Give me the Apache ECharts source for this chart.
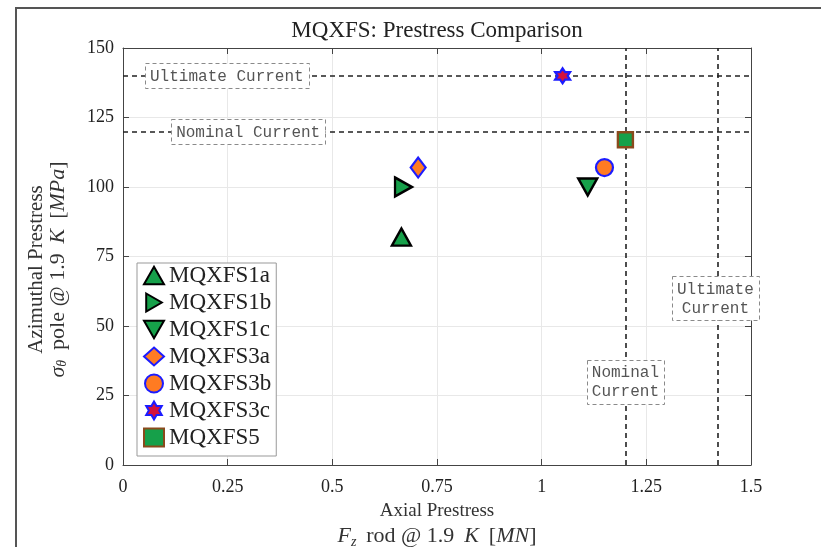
<!DOCTYPE html>
<html><head><meta charset="utf-8">
<script src="https://cdn.jsdelivr.net/npm/echarts@6/dist/echarts.min.js"></script>
<style>html,body{margin:0;padding:0;background:#fff;overflow:hidden}#c{width:821px;height:547px}</style>
</head><body><div id="c"></div>
<script>
// ---- data ----
var seriesNames = ['MQXFS1a','MQXFS1b','MQXFS1c','MQXFS3a','MQXFS3b','MQXFS3c','MQXFS5'];
var axialValues = [0.665, 0.67, 1.11, 0.705, 1.15, 1.05, 1.20];      // MN
var azimuthalValues = [82, 100, 100, 107, 107, 140, 117];          // MPa
var xTicks = [0, 0.25, 0.5, 0.75, 1, 1.25, 1.5];
var yTicks = [0, 25, 50, 75, 100, 125, 150];
var nominalCurrent = {axial: 1.2, azimuthal: 120};
var ultimateCurrent = {axial: 1.415, azimuthal: 140};
var annotationTexts = ['Ultimate Current', 'Nominal Current', 'Nominal\nCurrent', 'Ultimate\nCurrent'];
var annotationX = [0.248, 0.299, 1.2, 1.415];
var annotationY = [140, 120, 30, 60];

var SERIF = '"Liberation Serif", "DejaVu Serif", serif';
var MONO = '"Liberation Mono", "DejaVu Sans Mono", monospace';
var green = '#16a04a', orange = '#ff7b22', blue = '#1c1cff', red = '#d3123e', brown = '#8a4a1c';
var hexagram = 'path://M0,-10 L2.887,-5 L8.66,-5 L5.774,0 L8.66,5 L2.887,5 L0,10 L-2.887,5 L-8.66,5 L-5.774,0 L-8.66,-5 L-2.887,-5 Z';
var styles = [
  {symbol: 'path://M5,0 L10,8.66 L0,8.66 Z', size: [19, 17], fill: green, border: '#000', bw: 2.4},
  {symbol: 'path://M0,0 L8.66,5 L0,10 Z', size: [17, 19], fill: green, border: '#000', bw: 2.4},
  {symbol: 'path://M0,0 L10,0 L5,8.66 Z', size: [19, 17], fill: green, border: '#000', bw: 2.4},
  {symbol: 'diamond', size: [15, 20], fill: orange, border: blue, bw: 2.2},
  {symbol: 'circle', size: 17, fill: orange, border: blue, bw: 2.2},
  {symbol: hexagram, size: 15, fill: red, border: blue, bw: 2.2},
  {symbol: 'rect', size: 15, fill: green, border: brown, bw: 2.4}
];

var series = seriesNames.map(function (n, i) {
  var s = styles[i];
  return {
    name: n, type: 'scatter', z: 5,
    symbol: s.symbol, symbolSize: s.size,
    itemStyle: {color: s.fill, borderColor: s.border, borderWidth: s.bw, opacity: 1},
    data: [[axialValues[i], azimuthalValues[i]]]
  };
});

var dashStyle = {type: [5, 4], color: '#222', width: 1.6};
series.push({
  name: 'limits', type: 'scatter', data: [], z: 2,
  markLine: {
    silent: true, symbol: 'none', animation: false,
    label: {show: false}, lineStyle: dashStyle,
    data: [
      {yAxis: ultimateCurrent.azimuthal},
      {yAxis: nominalCurrent.azimuthal},
      {xAxis: nominalCurrent.axial},
      {xAxis: ultimateCurrent.axial}
    ]
  }
});

var chart = echarts.init(document.getElementById('c'), null, {renderer: 'canvas', width: 821, height: 547});
var axisCommon = {
  axisLine: {show: true, onZero: false, lineStyle: {color: '#444', width: 1}},
  axisTick: {show: true, inside: true, length: 6, lineStyle: {color: '#444'}},
  splitLine: {show: true, lineStyle: {color: '#e8e8e8', width: 1}}
};
var mathRich = function (lh, first) {
  return {
    r: {fontFamily: SERIF, fontSize: first, color: '#333', lineHeight: lh},
    m: {fontFamily: SERIF, fontSize: 22, color: '#333', lineHeight: lh},
    i: {fontFamily: SERIF, fontSize: 22, fontStyle: 'italic', color: '#333', lineHeight: lh},
    s: {fontFamily: SERIF, fontSize: 14, fontStyle: 'italic', color: '#333', lineHeight: lh - 4, verticalAlign: 'bottom'}
  };
};
var g = ' \u2009';
chart.setOption({
  animation: false,
  grid: {left: 123, width: 628, top: 48, height: 417, containLabel: false, outerBoundsMode: 'none'},
  xAxis: [
    Object.assign({
      type: 'value', min: xTicks[0], max: xTicks[xTicks.length - 1], interval: xTicks[1] - xTicks[0],
      axisLabel: {fontFamily: SERIF, fontSize: 18, color: '#222', margin: 13},
      name: '{r|Axial Prestress}\n{i|F}{s|z}{m|' + g + 'rod @ 1.9' + g + '}{i|K}{m|' + g + '[}{i|MN}{m|]}',
      nameLocation: 'middle', nameGap: 34,
      nameTextStyle: {rich: mathRich(25, 19)}
    }, axisCommon),
    Object.assign({type: 'value', position: 'top', min: 0, max: 1.5, interval: 0.25,
      axisLabel: {show: false}}, axisCommon, {splitLine: {show: false}})
  ],
  yAxis: [
    Object.assign({
      type: 'value', min: yTicks[0], max: yTicks[yTicks.length - 1], interval: yTicks[1] - yTicks[0],
      axisLabel: {fontFamily: SERIF, fontSize: 18, color: '#222', margin: 9},
      name: '{r|Azimuthal Prestress}\n{i|σ}{s|θ}{m|' + g + 'pole @ 1.9' + g + '}{i|K}{m|' + g + '[}{i|MPa}{m|]}',
      nameLocation: 'middle', nameRotate: 90, nameGap: 54,
      nameTextStyle: {rich: mathRich(22, 21), padding: [0, 26, 0, 0]}
    }, axisCommon),
    Object.assign({type: 'value', position: 'right', min: 0, max: 150, interval: 25,
      axisLabel: {show: false}}, axisCommon, {splitLine: {show: false}})
  ],
  legend: {
    data: seriesNames, orient: 'vertical', left: 137, top: 263,
    backgroundColor: '#fff', borderColor: '#999', borderWidth: 1,
    padding: [1, 5, 7, 6], itemGap: 4, itemWidth: 20, itemHeight: 18, itemTextGap: 14,
    textStyle: {fontFamily: SERIF, fontSize: 23, lineHeight: 21, color: '#222'}
  },
  series: series
});

// annotation boxes, positioned from data coordinates
var ctx = document.createElement('canvas').getContext('2d');
var annFont = '16px ' + MONO;
ctx.font = annFont;
var lineH = 19;
var gfx = [
  {type: 'text', x: 437, y: 31, z: 100, style: {text: 'MQXFS: Prestress Comparison', font: '23px ' + SERIF,
    fill: '#222', textAlign: 'center', textVerticalAlign: 'middle'}},
  {type: 'polyline', z: 100, shape: {points: [[16, 547], [16, 8], [821, 8]]}, style: {stroke: '#555', lineWidth: 2, fill: null}}
];
annotationTexts.forEach(function (t, i) {
  var p = chart.convertToPixel({xAxisIndex: 0, yAxisIndex: 0}, [annotationX[i], annotationY[i]]);
  var lines = t.split('\n');
  var w = Math.max.apply(null, lines.map(function (l) { return ctx.measureText(l).width; })) + 10;
  var h = lines.length * lineH + 6;
  gfx.push({type: 'rect', z: 90, shape: {x: Math.round(p[0] - w / 2) + 0.5, y: Math.round(p[1] - h / 2) + 0.5, width: Math.round(w), height: Math.round(h)},
    style: {fill: '#fff', stroke: '#8a8a8a', lineWidth: 1, lineDash: [4, 3]}});
  gfx.push({type: 'text', z: 91, x: p[0], y: p[1] + 1,
    style: {text: t, font: annFont, fill: '#555', textAlign: 'center', textVerticalAlign: 'middle', lineHeight: lineH}});
});
chart.setOption({graphic: gfx});
</script></body></html>
